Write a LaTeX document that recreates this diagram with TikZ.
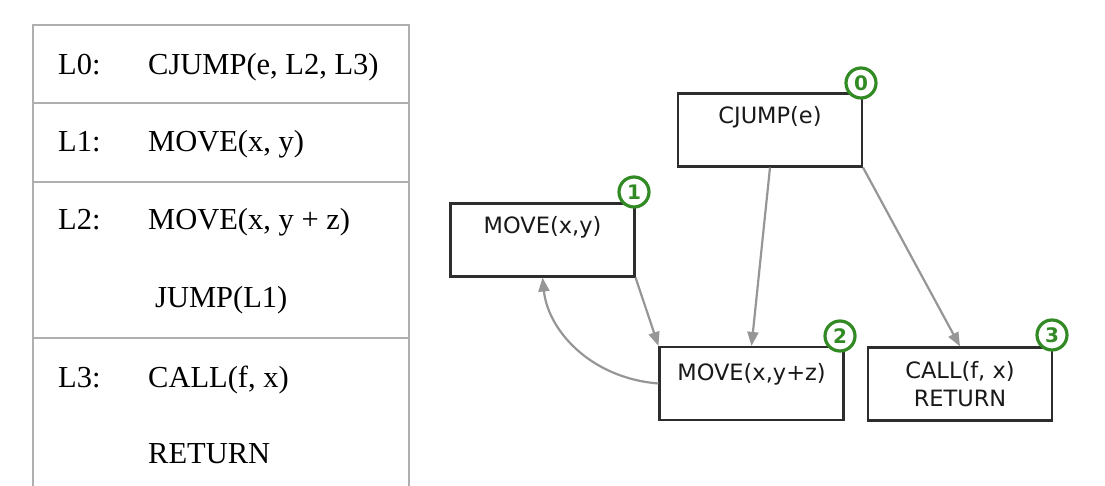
\documentclass[tikz,border=0pt]{standalone}
\usepackage{fontspec}
\setsansfont{DejaVu Sans}
\newfontfamily\serfont{Liberation Serif}
\usetikzlibrary{arrows.meta}
\definecolor{tblgray}{RGB}{175,175,175}
\definecolor{boxgray}{RGB}{45,45,45}
\definecolor{edgegray}{RGB}{150,150,150}
\definecolor{badgegreen}{RGB}{50,138,36}
\begin{document}
\begin{tikzpicture}[x=1pt,y=-1pt,
  tbl/.style={draw=tblgray,line width=2pt},
  ttext/.style={anchor=base west,inner sep=0pt,font=\serfont\fontsize{30.5}{34}\selectfont},
  blk/.style={draw=boxgray,line width=2.1pt,minimum width=184pt,minimum height=73pt,inner sep=0pt,fill=white},
  btext/.style={anchor=base,inner sep=0pt,font=\sffamily\fontsize{22.5}{26}\selectfont,text=black!90},
  badge/.style={circle,draw=badgegreen,line width=3.2pt,fill=white,minimum size=30pt,inner sep=0pt,text=badgegreen,font=\sffamily\bfseries\fontsize{20}{20}\selectfont},
  edge/.style={draw=edgegray,line width=2.2pt,-{Triangle[length=14pt,width=11pt]}}
]
\useasboundingbox (0,0) rectangle (1105,486);
% table
\draw[tbl] (33,486) -- (33,25) -- (409,25) -- (409,486);
\draw[tbl] (33,103) -- (409,103);
\draw[tbl] (33,182) -- (409,182);
\draw[tbl] (33,338) -- (409,338);
\node[ttext] (l0) at (58,75) {L0:};
\node[ttext] (i0) at (148,75) {CJUMP(e, L2, L3)};
\node[ttext] (l1) at (58,152) {L1:};
\node[ttext] (i1) at (148,152) {MOVE(x, y)};
\node[ttext] (l2) at (58,230) {L2:};
\node[ttext] (i2) at (148,230) {MOVE(x, y + z)};
\node[ttext] (i2b) at (155,307) {JUMP(L1)};
\node[ttext] (l3) at (58,387) {L3:};
\node[ttext] (i3) at (148,387) {CALL(f, x)};
\node[ttext] (i3b) at (148,463) {RETURN};
% graph
\node[blk] (b0) at (770,130) {};
\node[blk] (b1) at (542.5,240) {};
\node[blk] (b2) at (751.5,383.5) {};
\node[blk] (b3) at (960,384) {};
\node[btext] (t0) at (770,124) {CJUMP(e)};
\node[btext] (t1) at (542.5,234) {MOVE(x,y)};
\node[btext] (t2) at (751.5,380) {MOVE(x,y+z)};
\node[btext] (t3) at (960,378) {CALL(f, x)};
\node[btext] (t3b) at (960,406) {RETURN};
\draw[edge] (b0.south) -- (b2.north);
\draw[edge] (b0.south east) -- (b3.north);
\draw[edge] (b1.south east) -- (b2.north west);
\draw[edge] (b2.west) .. controls (590,378) and (548,330) .. (b1.south);
\node[badge] (n0) at (861,83) {0};
\node[badge] (n1) at (634,192) {1};
\node[badge] (n2) at (840,336) {2};
\node[badge] (n3) at (1052,335) {3};
\end{tikzpicture}
\end{document}
